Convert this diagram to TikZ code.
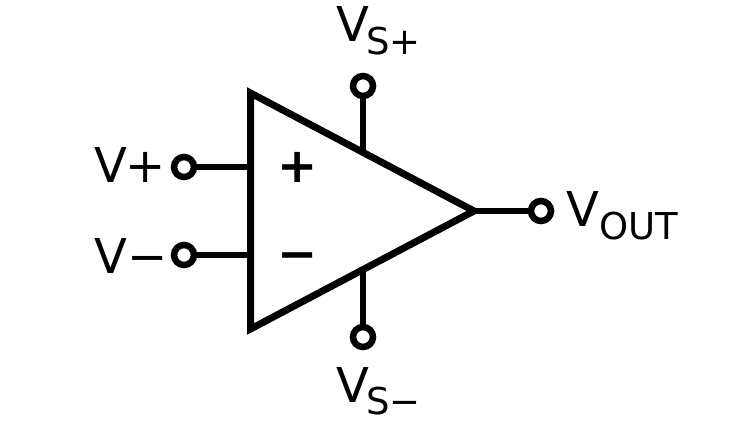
\documentclass[tikz,border=0pt]{standalone}
\usepackage{fontspec}
\setmainfont{DejaVu Sans}
\newcommand{\bigtxt}{\fontsize{48}{48}\selectfont}
\newcommand{\subtxt}{\fontsize{37}{37}\selectfont}
\newcommand{\subbed}[2]{{\bigtxt V}\hspace{#1pt}\raisebox{-12.5pt}{\subtxt #2}}
\tikzset{
  wire/.style={line width=6pt,line cap=butt},
  opamp/.style={line width=7pt,line join=miter,miter limit=10},
  terminal/.style={circle,draw,line width=6.5pt,fill=white,minimum size=20pt,inner sep=0pt},
  label/.style={inner sep=0pt,anchor=base west},
  sign/.style={inner sep=0pt,anchor=base,font=\bigtxt\bfseries}
}
\begin{document}
\begin{tikzpicture}[x=1pt,y=-1pt]
\useasboundingbox (0,0) rectangle (750,422);
\fill[white] (0,0) rectangle (750,422);
% triangle corners and the points where the wires meet it
\coordinate (tl) at (250.5,93);
\coordinate (bl) at (250.5,329);
\coordinate (tip) at (474,211);
\coordinate (inp) at (250.5,167);
\coordinate (inn) at (250.5,255);
\coordinate (top) at (363,152);
\coordinate (bot) at (363,270);
% terminals
\node[terminal] (tp) at (184,167) {};
\node[terminal] (tn) at (184,255) {};
\node[terminal] (ts) at (363,86) {};
\node[terminal] (tm) at (363,337) {};
\node[terminal] (to) at (541,211) {};
% wires
\draw[wire] (tp) -- (inp);
\draw[wire] (tn) -- (inn);
\draw[wire] (ts) -- (top);
\draw[wire] (tm) -- (bot);
\draw[wire] (tip) -- (to);
\draw[opamp] (tl) -- (bl) -- (tip) -- cycle;
% signs
\node[sign] (plus) at (298,183) {+};
\node[sign] (minus) at (298,271) {−};
% labels
\node[label] (lp) at (94,183) {\bigtxt V\hspace{-2pt}+};
\node[label] (ln) at (94,273) {\bigtxt V\hspace{1pt}−};
\node[label] (ls) at (336.5,42) {\subbed{-3.5}{S+}};
\node[label] (lm) at (336.5,402) {\subbed{-3.5}{S−}};
\node[label] (lo) at (566.5,227) {\subbed{0}{OUT}};
\end{tikzpicture}
\end{document}
